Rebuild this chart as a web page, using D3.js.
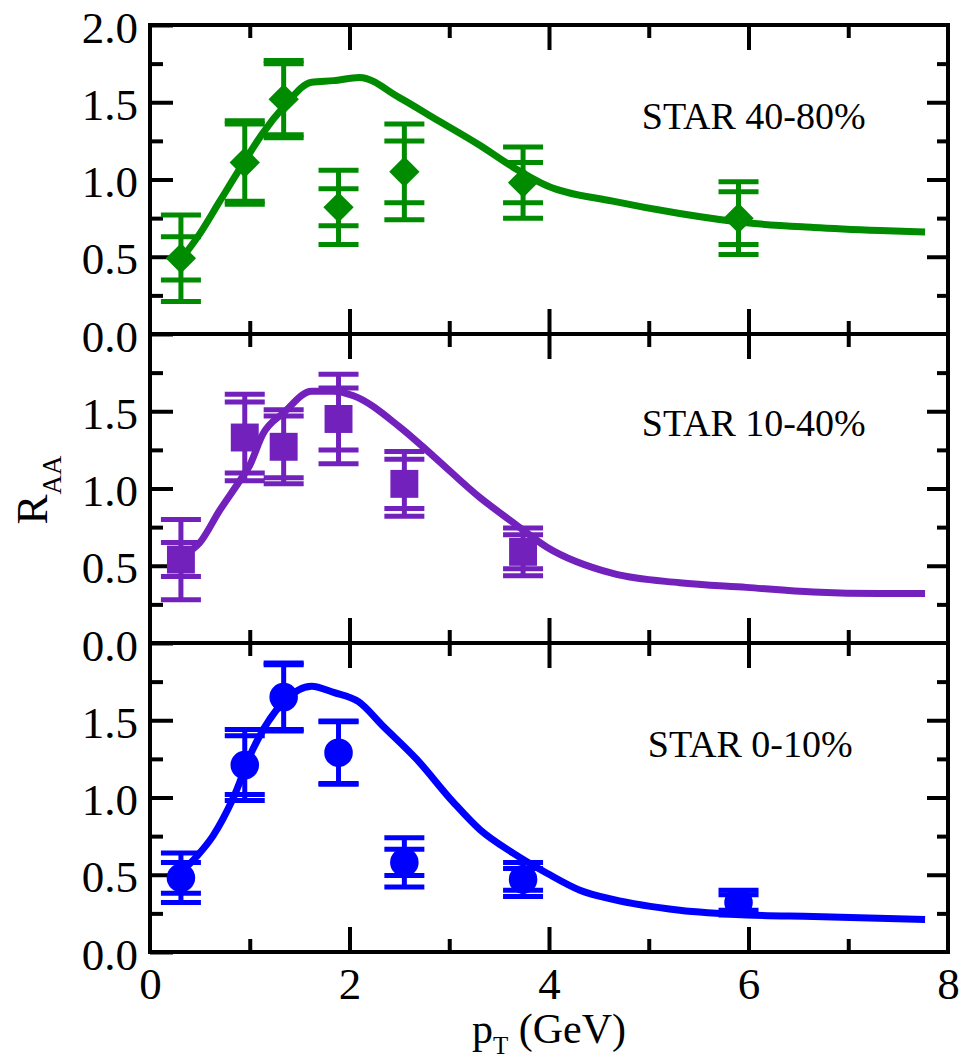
<!DOCTYPE html>
<html>
<head>
<meta charset="utf-8">
<script src="https://cdn.jsdelivr.net/npm/d3@7"></script>
<style>
    body { margin: 0; background: #fff; }
    svg, svg text { font-family: "Liberation Serif", "Times New Roman", serif; }
</style>
</head>
<body>
<div class="RaaGraph"></div>
<script>
// ---- data ----
// pT of the STAR points (GeV)
const pt_points = [0.31, 0.95, 1.34, 1.89, 2.55, 3.74, 5.9];

// STAR 40-80%
const raa_40_80 = [0.49, 1.11, 1.52, 0.82, 1.05, 0.98, 0.75];
const stat_40_80 = [0.14, 0.25, 0.23, 0.12, 0.20, 0.13, 0.17];
const sys_40_80 = [0.28, 0.27, 0.25, 0.24, 0.31, 0.23, 0.235];
const curve_x_40_80 = [0.32, 0.5, 0.7, 0.95, 1.13, 1.34, 1.62, 1.84, 2.1, 2.5, 2.84, 3.31, 3.64, 3.98, 4.64, 5.31, 5.98, 6.65, 7.32, 7.77];
const curve_y_40_80 = [0.49, 0.65, 0.86, 1.12, 1.30, 1.47, 1.63, 1.64, 1.66, 1.53, 1.40, 1.22, 1.08, 0.96, 0.86, 0.78, 0.72, 0.69, 0.67, 0.66];

// STAR 10-40% (no point at 5.9)
const raa_10_40 = [0.54, 1.33, 1.27, 1.45, 1.03, 0.59];
const stat_10_40 = [0.11, 0.23, 0.20, 0.20, 0.16, 0.11];
const sys_10_40 = [0.26, 0.28, 0.24, 0.29, 0.21, 0.155];
const curve_x_10_40 = [0.32, 0.5, 0.7, 0.9, 1.0, 1.13, 1.34, 1.62, 1.84, 2.04, 2.5, 2.84, 3.31, 3.64, 3.98, 4.64, 5.31, 5.98, 6.65, 7.32, 7.77];
const curve_y_10_40 = [0.56, 0.65, 0.86, 1.05, 1.15, 1.35, 1.49, 1.63, 1.63, 1.60, 1.40, 1.21, 0.94, 0.78, 0.62, 0.45, 0.39, 0.36, 0.33, 0.32, 0.32];

// STAR 0-10%
const raa_0_10 = [0.48, 1.21, 1.65, 1.29, 0.58, 0.47, 0.32];
const stat_0_10 = [0.10, 0.19, 0.21, 0.20, 0.085, 0.07, 0.05];
const sys_0_10 = [0.16, 0.23, 0.22, 0.205, 0.16, 0.11, 0.08];
const curve_x_0_10 = [0.3, 0.47, 0.63, 0.83, 1.03, 1.34, 1.62, 1.84, 2.09, 2.34, 2.67, 3.04, 3.31, 3.64, 3.98, 4.31, 4.64, 5.31, 5.98, 6.65, 7.77];
const curve_y_0_10 = [0.51, 0.62, 0.75, 0.99, 1.31, 1.62, 1.72, 1.68, 1.62, 1.46, 1.25, 0.97, 0.79, 0.64, 0.51, 0.40, 0.34, 0.27, 0.24, 0.23, 0.21];

const panel_labels = ["STAR 40-80%", "STAR 10-40%", "STAR 0-10%"];
const x_ticks_major = [0, 2, 4, 6, 8];
const x_ticks_minor = [1, 3, 5, 7];
const y_ticks_major = [0, 0.5, 1.0, 1.5, 2.0];
const y_ticks_minor = [0.25, 0.75, 1.25, 1.75];

// ---- layout ----
const margin = { top: 25, right: 15, bottom: 111, left: 150 };
const width = 963 - margin.left - margin.right;
const panelH = 309;
const serif = '"Liberation Serif", "Times New Roman", serif';

const root = d3.select(".RaaGraph").append("svg")
    .attr("width", 963)
    .attr("height", 1063);
const svg = root.append("g")
    .attr("transform", `translate(${margin.left},${margin.top})`);

const xScale = d3.scaleLinear().domain([0, 8]).range([0, width]);

const panels = [
    { y: raa_40_80, stat: stat_40_80, sys: sys_40_80, cx: curve_x_40_80, cy: curve_y_40_80, color: "#008b00", shape: "diamond", label: panel_labels[0], lx: 4.93, ly: 1.33 },
    { y: raa_10_40, stat: stat_10_40, sys: sys_10_40, cx: curve_x_10_40, cy: curve_y_10_40, color: "#7221bc", shape: "square", label: panel_labels[1], lx: 4.93, ly: 1.34 },
    { y: raa_0_10, stat: stat_0_10, sys: sys_0_10, cx: curve_x_0_10, cy: curve_y_0_10, color: "#0000ff", shape: "circle", label: panel_labels[2], lx: 4.99, ly: 1.26 },
];

// style helper for tick groups
function styleAxis(g, fontSize) {
    g.attr("font-family", serif);
    g.select(".domain").remove();
    g.selectAll("line").attr("stroke", "#000").attr("stroke-width", 4);
    g.selectAll("text").attr("fill", "#000")
        .style("font-family", serif)
        .style("font-size", fontSize);
}

panels.forEach(function (p, i) {
    const g = svg.append("g").attr("transform", `translate(0,${i * panelH})`);
    const yScale = d3.scaleLinear().domain([0, 2]).range([panelH, 0]);
    const isLast = i === panels.length - 1;

    // left axis, major ticks with labels
    g.append("g")
        .call(d3.axisLeft(yScale)
            .tickValues(i === 0 ? y_ticks_major : y_ticks_major.slice(0, 4))
            .tickSizeInner(-23).tickSizeOuter(0).tickPadding(12)
            .tickFormat(d3.format(".1f")))
        .call(a => styleAxis(a, "45px"))
        .selectAll("text").attr("dy", "0.38em");
    // left minor
    g.append("g")
        .call(d3.axisLeft(yScale).tickValues(y_ticks_minor).tickSizeInner(-13).tickSizeOuter(0).tickFormat(""))
        .call(a => styleAxis(a, "0px"));
    // right axis
    g.append("g")
        .attr("transform", `translate(${width},0)`)
        .call(d3.axisRight(yScale).tickValues([0.5, 1.0, 1.5]).tickSizeInner(-21).tickSizeOuter(0).tickFormat(""))
        .call(a => styleAxis(a, "0px"));
    g.append("g")
        .attr("transform", `translate(${width},0)`)
        .call(d3.axisRight(yScale).tickValues(y_ticks_minor).tickSizeInner(-11).tickSizeOuter(0).tickFormat(""))
        .call(a => styleAxis(a, "0px"));
    // top axis
    g.append("g")
        .call(d3.axisTop(xScale).tickValues(x_ticks_major.slice(1, 4)).tickSizeInner(-25).tickSizeOuter(0).tickFormat(""))
        .call(a => styleAxis(a, "0px"));
    g.append("g")
        .call(d3.axisTop(xScale).tickValues(x_ticks_minor).tickSizeInner(-13).tickSizeOuter(0).tickFormat(""))
        .call(a => styleAxis(a, "0px"));
    // bottom axis (labels only on the last panel)
    const xb = g.append("g")
        .attr("transform", `translate(0,${panelH})`)
        .call(d3.axisBottom(xScale)
            .tickValues(x_ticks_major)
            .tickSizeInner(-25).tickSizeOuter(0).tickPadding(15)
            .tickFormat(isLast ? d3.format("d") : ""))
        .call(a => styleAxis(a, "45px"));
    xb.selectAll(".tick")
        .filter(d => d === 0 || d === 8)
        .select("line").remove();
    g.append("g")
        .attr("transform", `translate(0,${panelH})`)
        .call(d3.axisBottom(xScale).tickValues(x_ticks_minor).tickSizeInner(-13).tickSizeOuter(0).tickFormat(""))
        .call(a => styleAxis(a, "0px"));

    // frame
    g.append("rect")
        .attr("width", width).attr("height", panelH)
        .attr("fill", "none").attr("stroke", "#000").attr("stroke-width", 4);

    const pts = p.y.map((v, k) => ({ x: pt_points[k], y: v, stat: p.stat[k], sys: p.sys[k] }));

    // error bars: stat + total caps
    const eb = g.selectAll(".err" + i).data(pts).enter().append("g")
        .attr("class", "err" + i)
        .attr("stroke", p.color).attr("stroke-width", 5);
    eb.append("line")
        .attr("x1", d => xScale(d.x)).attr("x2", d => xScale(d.x))
        .attr("y1", d => yScale(d.y + d.sys)).attr("y2", d => yScale(d.y - d.sys));
    [d => d.y + d.sys, d => d.y + d.stat, d => d.y - d.stat, d => d.y - d.sys].forEach(function (f) {
        eb.append("line")
            .attr("x1", d => xScale(d.x) - 20).attr("x2", d => xScale(d.x) + 20)
            .attr("y1", d => yScale(f(d))).attr("y2", d => yScale(f(d)));
    });

    // theory curve
    const curve = p.cx.map((v, k) => ({ x: v, y: p.cy[k] }));
    const line = d3.line()
        .x(d => xScale(d.x))
        .y(d => yScale(d.y))
        .curve(d3.curveMonotoneX);
    g.append("path")
        .datum(curve)
        .attr("d", line)
        .attr("fill", "none")
        .attr("stroke", p.color)
        .attr("stroke-width", 7)
        .attr("stroke-linejoin", "round");

    // markers
    let sym;
    if (p.shape === "diamond") sym = d3.symbol().type(d3.symbolSquare).size(460);
    else if (p.shape === "square") sym = d3.symbol().type(d3.symbolSquare).size(780);
    else sym = d3.symbol().type(d3.symbolCircle).size(640);
    g.selectAll(".dot" + i).data(pts).enter().append("path")
        .attr("class", "dot" + i)
        .attr("d", sym)
        .attr("transform", d => `translate(${xScale(d.x)},${yScale(d.y)})` + (p.shape === "diamond" ? " rotate(45)" : ""))
        .attr("fill", p.color);

    // panel label
    g.append("text")
        .attr("x", xScale(p.lx))
        .attr("y", yScale(p.ly))
        .style("font-family", serif)
        .style("font-size", "38px")
        .attr("fill", "#000")
        .text(p.label);
});

// y axis title R_AA
const yt = root.append("text")
    .attr("transform", "translate(47,490) rotate(-90)")
    .attr("text-anchor", "middle")
    .style("font-family", serif)
    .attr("fill", "#000");
yt.append("tspan").style("font-size", "45px").text("R");
yt.append("tspan").style("font-size", "27px").attr("dy", 14).text("AA");

// x axis title pT (GeV)
const xt = root.append("text")
    .attr("x", 549).attr("y", 1043)
    .attr("text-anchor", "middle")
    .style("font-family", serif)
    .attr("fill", "#000");
xt.append("tspan").style("font-size", "42px").text("p");
xt.append("tspan").style("font-size", "25px").attr("dy", 11).text("T");
xt.append("tspan").style("font-size", "42px").attr("dy", -11).text(" (GeV)");
</script>
</body>
</html>
